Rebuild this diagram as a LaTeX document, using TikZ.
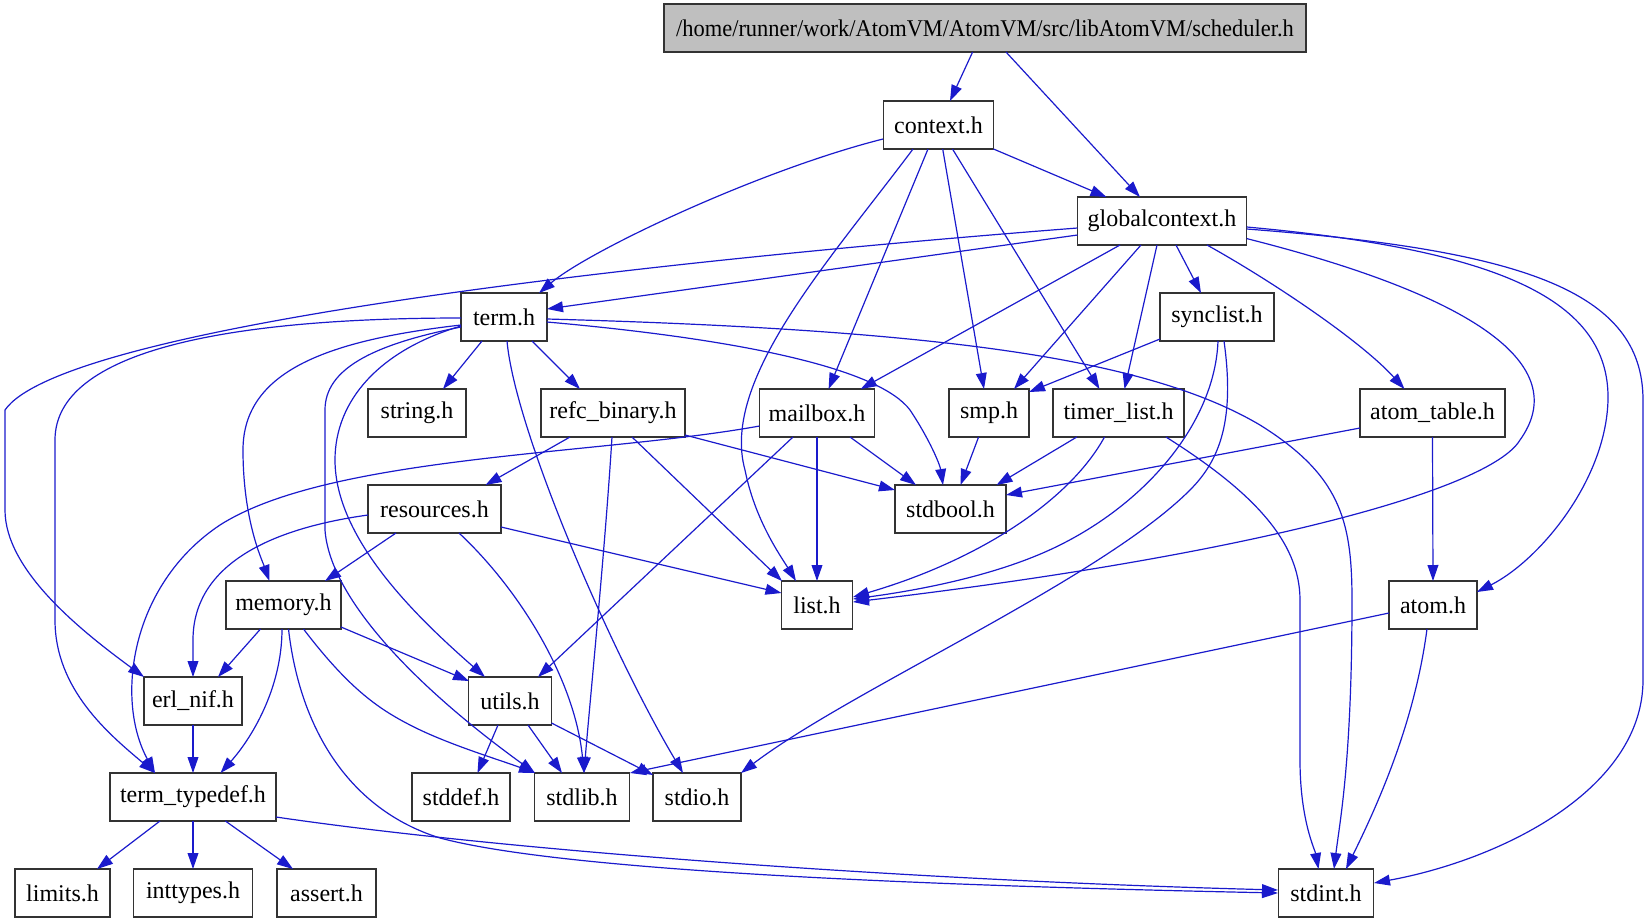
\documentclass[tikz,border=0pt]{standalone}
\usepackage{fontspec}
\usepackage{graphicx}
\setmainfont{Liberation Serif}
\usetikzlibrary{calc,arrows.meta}
\definecolor{edgeblue}{HTML}{1A1ACC}
\definecolor{rootgray}{HTML}{BFBFBF}
\tikzset{
  hbox/.style={draw=black!80, line width=0.6pt, fill=white, minimum height=24pt, inner sep=0pt,
    font=\fontsize{12}{14}\selectfont},
  rootbox/.style={hbox, fill=rootgray},
  dep/.style={draw=edgeblue, line width=0.6pt, -{Triangle[length=8pt,width=5.4pt]}, edgeblue}
}
\begin{document}
\begin{tikzpicture}[x=0.5pt,y=-0.5pt]
\useasboundingbox (0,0) rectangle (1651,923);
% nodes
\node[rootbox, minimum width=321pt] (sched) at (985,28) {\scalebox{0.935}[1]{/home/runner/work/AtomVM/AtomVM/src/libAtomVM/scheduler.h}};
\node[hbox, minimum width=55pt] (context) at (938.5,125) {context.h};
\node[hbox, minimum width=84.75pt] (gctx) at (1162,221) {globalcontext.h};
\node[hbox, minimum width=43pt] (term) at (504,317) {term.h};
\node[hbox, minimum width=57pt] (synclist) at (1217,317) {synclist.h};
\node[hbox, minimum width=49pt] (string) at (417,413) {string.h};
\node[hbox, minimum width=72pt] (refc) at (613,413) {refc\_binary.h};
\node[hbox, minimum width=57.5pt] (mailbox) at (817,413) {mailbox.h};
\node[hbox, minimum width=40pt] (smp) at (989,413) {smp.h};
\node[hbox, minimum width=65.5pt] (timer) at (1118.5,413) {timer\_list.h};
\node[hbox, minimum width=72.5pt] (atomtable) at (1432.5,413) {atom\_table.h};
\node[hbox, minimum width=66.5pt] (resources) at (434.5,509) {resources.h};
\node[hbox, minimum width=55.5pt] (stdbool) at (950.5,509) {stdbool.h};
\node[hbox, minimum width=57.5pt] (memory) at (283.5,605) {memory.h};
\node[hbox, minimum width=35.5pt] (list) at (817,605) {list.h};
\node[hbox, minimum width=44pt] (atom) at (1433,605) {atom.h};
\node[hbox, minimum width=49pt] (erlnif) at (193,701) {erl\_nif.h};
\node[hbox, minimum width=41.5pt] (utils) at (510,701) {utils.h};
\node[hbox, minimum width=83pt] (termtd) at (193,797) {term\_typedef.h};
\node[hbox, minimum width=49pt] (stddef) at (461,797) {stddef.h};
\node[hbox, minimum width=47.5pt] (stdlib) at (582,797) {stdlib.h};
\node[hbox, minimum width=44pt] (stdio) at (697,797) {stdio.h};
\node[hbox, minimum width=47.5pt] (limits) at (62.5,893) {limits.h};
\node[hbox, minimum width=59.25pt] (inttypes) at (193,893) {inttypes.h};
\node[hbox, minimum width=49.5pt] (assert) at (326.5,893) {assert.h};
\node[hbox, minimum width=47.75pt] (stdint) at (1326,893) {stdint.h};
% edges
\draw[dep] ($(sched)+(-12.4,24)$) -- ($(context)+(11.5,-24)$);
\draw[dep] ($(sched)+(21,24)$) -- ($(gctx)+(-22,-24)$);
\draw[dep] ($(context)+(55,24)$) -- ($(gctx)+(-55.5,-24)$);
\draw[dep] ($(context)+(-55.5,14)$) .. controls (760,170) and (590,250) .. ($(term)+(35,-24)$);
\draw[dep] ($(context)+(-25.5,24)$) .. controls (830,260) and (720,380) .. (745,470) .. controls (755,520) and (780,555) .. ($(list)+(-21,-24)$);
\draw[dep] ($(context)+(-10.5,24)$) -- ($(mailbox)+(11.6,-24)$);
\draw[dep] ($(context)+(4.2,24)$) -- ($(smp)+(-5,-24)$);
\draw[dep] ($(context)+(14,24)$) -- ($(timer)+(-19,-24)$);
% globalcontext
\draw[dep] ($(gctx)+(-84.5,14)$) -- ($(term)+(43,-8)$);
\draw[dep] ($(gctx)+(-84.5,7)$) .. controls (600,265) and (60,330) .. (5,410) -- (5,510) .. controls (5,570) and (80,630) .. ($(erlnif)+(-49,-24)$);
\draw[dep] ($(gctx)+(-42,24)$) -- ($(mailbox)+(43.7,-24)$);
\draw[dep] ($(gctx)+(-21,24)$) -- ($(smp)+(25,-24)$);
\draw[dep] ($(gctx)+(-5,24)$) -- ($(timer)+(6,-24)$);
\draw[dep] ($(gctx)+(14,24)$) -- ($(synclist)+(-16,-24)$);
\draw[dep] ($(gctx)+(45,24)$) .. controls (1270,280) and (1360,340) .. ($(atomtable)+(-28,-24)$);
\draw[dep] ($(gctx)+(84.75,17.6)$) .. controls (1490,300) and (1570,370) .. (1520,440) .. controls (1490,490) and (1250,555) .. ($(list)+(36,-3)$);
\draw[dep] ($(gctx)+(84.75,6)$) .. controls (1500,250) and (1610,300) .. (1608,400) .. controls (1606,480) and (1540,560) .. ($(atom)+(44,-13)$);
\draw[dep] ($(gctx)+(84.75,8)$) .. controls (1520,250) and (1643,290) .. (1643,400) -- (1643,680) .. controls (1643,790) and (1500,860) .. ($(stdint)+(48,-10)$);
% term
\draw[dep] ($(term)+(-43,8)$) .. controls (330,340) and (243,370) .. (243,450) .. controls (243,520) and (262,560) .. ($(memory)+(-14,-24)$);
\draw[dep] ($(term)+(-43,1)$) .. controls (230,318) and (55,350) .. (55,440) -- (55,620) .. controls (55,690) and (110,735) .. ($(termtd)+(-38,-24)$);
\draw[dep] ($(term)+(-22,24)$) -- ($(string)+(26,-24)$);
\draw[dep] ($(term)+(28,24)$) -- ($(refc)+(-33,-24)$);
\draw[dep] ($(term)+(43,5)$) .. controls (750,340) and (880,370) .. (910,410) .. controls (930,440) and (940,465) .. ($(stdbool)+(-7.5,-24)$);
\draw[dep] ($(term)+(43,2)$) .. controls (950,330) and (1150,360) .. (1260,425) .. controls (1340,475) and (1352,520) .. (1352,600) .. controls (1352,760) and (1340,820) .. ($(stdint)+(8,-24)$);
\draw[dep] ($(term)+(3,24)$) .. controls (515,430) and (610,650) .. ($(stdio)+(-14,-24)$);
\draw[dep] ($(term)+(-43,10)$) .. controls (370,345) and (325,370) .. (325,410) -- (325,530) .. controls (330,600) and (420,690) .. ($(stdlib)+(-47,-24)$);
\draw[dep] ($(term)+(-43,9)$) .. controls (380,350) and (335,400) .. (335,460) .. controls (335,540) and (420,620) .. ($(utils)+(-25,-24)$);
% refc_binary
\draw[dep] ($(refc)+(19,24)$) -- ($(list)+(-35,-24)$);
\draw[dep] ($(refc)+(-43,24)$) -- ($(resources)+(51,-24)$);
\draw[dep] ($(refc)+(72,22)$) -- ($(stdbool)+(-55.5,-19)$);
\draw[dep] ($(refc)+(-1,24)$) .. controls (605,550) and (590,700) .. ($(stdlib)+(2,-24)$);
% mailbox
\draw[dep] ($(mailbox)+(0,24)$) -- ($(list)+(0,-24)$);
\draw[dep] ($(mailbox)+(33,24)$) -- ($(stdbool)+(-34.5,-24)$);
\draw[dep] ($(mailbox)+(-24,24)$) -- ($(utils)+(28,-24)$);
\draw[dep] ($(mailbox)+(-57.5,13)$) .. controls (600,455) and (330,455) .. (220,525) .. controls (130,585) and (115,700) .. ($(termtd)+(-38,-24)$);
% resources
\draw[dep] ($(resources)+(66.5,18)$) -- ($(list)+(-35.5,-12)$);
\draw[dep] ($(resources)+(-38.5,24)$) -- ($(memory)+(41.5,-24)$);
\draw[dep] ($(resources)+(-66.5,6)$) .. controls (260,530) and (193,570) .. (193,640) -- ($(erlnif)+(0,-24)$);
\draw[dep] ($(resources)+(24.5,24)$) .. controls (520,590) and (575,680) .. ($(stdlib)+(2,-24)$);
% memory
\draw[dep] ($(memory)+(-23,24)$) -- ($(erlnif)+(25,-24)$);
\draw[dep] ($(memory)+(-1.5,24)$) .. controls (282,690) and (250,740) .. ($(termtd)+(27.5,-24)$);
\draw[dep] ($(memory)+(5,24)$) .. controls (300,730) and (350,810) .. (440,838) .. controls (560,870) and (900,885) .. ($(stdint)+(-48,0)$);
\draw[dep] ($(memory)+(20,24)$) .. controls (350,690) and (380,710) .. (414,727) .. controls (450,745) and (500,760) .. ($(stdlib)+(-47,-24)$);
\draw[dep] ($(memory)+(57.5,22)$) -- ($(utils)+(-41,-20)$);
% utils
\draw[dep] ($(utils)+(-12,24)$) -- ($(stddef)+(16.5,-24)$);
\draw[dep] ($(utils)+(18,24)$) -- ($(stdlib)+(-20,-24)$);
\draw[dep] ($(utils)+(41.5,22)$) -- ($(stdio)+(-44,-22)$);
% erl_nif
\draw[dep] ($(erlnif)+(0,24)$) -- ($(termtd)+(0,-24)$);
% term_typedef
\draw[dep] ($(termtd)+(-33,24)$) -- ($(limits)+(34.5,-24)$);
\draw[dep] ($(termtd)+(0,24)$) -- ($(inttypes)+(0,-24)$);
\draw[dep] ($(termtd)+(32.4,24)$) -- ($(assert)+(-33.5,-24)$);
\draw[dep] ($(termtd)+(83,20)$) .. controls (500,850) and (900,880) .. ($(stdint)+(-48,-3)$);
% smp
\draw[dep] ($(smp)+(-10.4,24)$) -- ($(stdbool)+(10,-24)$);
% timer_list
\draw[dep] ($(timer)+(-14,24)$) .. controls (1070,500) and (980,560) .. ($(list)+(36,-8)$);
\draw[dep] ($(timer)+(-41.7,24)$) -- ($(stdbool)+(46,-24)$);
\draw[dep] ($(timer)+(47.5,24)$) .. controls (1250,490) and (1300,540) .. (1300,600) -- (1300,760) .. controls (1300,820) and (1315,850) .. ($(stdint)+(-7.5,-24)$);
% synclist
\draw[dep] ($(synclist)+(1,24)$) .. controls (1215,420) and (1150,500) .. (1060,545) .. controls (1000,575) and (920,590) .. ($(list)+(36,-6)$);
\draw[dep] ($(synclist)+(-57,22)$) -- ($(smp)+(40,-21)$);
\draw[dep] ($(synclist)+(7,24)$) .. controls (1235,420) and (1220,460) .. (1190,490) .. controls (1100,580) and (850,690) .. ($(stdio)+(44,-24)$);
% atom_table
\draw[dep] ($(atomtable)+(0,24)$) -- ($(atom)+(0,-24)$);
\draw[dep] ($(atomtable)+(-72.5,15)$) -- ($(stdbool)+(55.5,-14)$);
% atom
\draw[dep] ($(atom)+(-6,24)$) .. controls (1415,720) and (1380,800) .. ($(stdint)+(20,-24)$);
\draw[dep] ($(atom)+(-44,8)$) -- ($(stdlib)+(48,-24)$);
\end{tikzpicture}
\end{document}
